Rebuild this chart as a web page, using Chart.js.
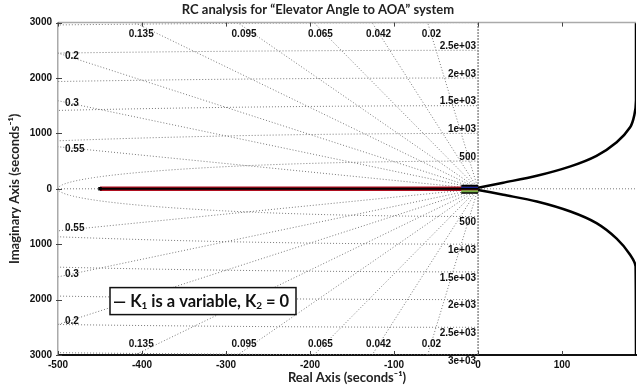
<!DOCTYPE html>
<html>
<head>
<meta charset="utf-8">
<script src="https://cdn.jsdelivr.net/npm/chart.js@4.4.0/dist/chart.umd.min.js"></script>
<style>
body{margin:0;background:#fff}
#wrap{width:642px;height:388px}
</style>
</head>
<body>
<div id="wrap"><canvas id="rc_chart" width="642" height="388"></canvas></div>
<script>
let xTicks=[-500,-400,-300,-200,-100,0,100]
let yTicks=[-3000,-2000,-1000,0,1000,2000,3000]
let dampingRatios=[0.02,0.042,0.065,0.095,0.135,0.2,0.3,0.55]
let naturalFreqs=[500,1000,1500,2000,2500,3000]
let freqLabels=['500','1e+03','1.5e+03','2e+03','2.5e+03','3e+03']

// K1 locus: real-axis segment plus the two branches heading right
let realBranchX=[-450,0]
let upperBranchX=[0,30,70,110,141,165,181,186,188,188]
let upperBranchY=[20,110,235,405,595,840,1110,1330,1600,3000]
let lowerBranchX=[0,30,70,110,141,165,181,187.5,188]
let lowerBranchY=[-20,-108,-229,-410,-620,-900,-1190,-1400,-3000]
// short branches bunched up next to the origin
let originX=[-20,0]
let originY=[55,25,-5,-45,-70]
let originColors=['#000','#2233c8','#d42020','#7ab648','#000']

const X_MIN=-500, X_MAX=188, Y_MIN=-3000, Y_MAX=3000
const GRID='#7a7a7a'

function gridLine(points, color, dash){
    return {data:points, showLine:true, pointRadius:0, borderColor:color||GRID,
        borderWidth:1, borderDash:dash||[1,2], order:10}
}

let datasets=[]

// locus first so it sits on top of the grid
datasets.push({data:realBranchX.map(x=>({x:x,y:0})), showLine:true, borderColor:'#000', borderWidth:2,
    pointRadius:[2.5,0], pointStyle:'rect', pointBackgroundColor:'#000', pointBorderWidth:0, order:0})
datasets.push({data:realBranchX.map(x=>({x:x,y:0})), showLine:true, borderColor:'#b01020', borderWidth:4.5,
    pointRadius:0, order:1})
datasets.push({data:upperBranchX.map((x,i)=>({x:x,y:upperBranchY[i]})), showLine:true, borderColor:'#000',
    borderWidth:2.5, pointRadius:0, tension:0.3, order:0})
datasets.push({data:lowerBranchX.map((x,i)=>({x:x,y:lowerBranchY[i]})), showLine:true, borderColor:'#000',
    borderWidth:2.5, pointRadius:0, tension:0.3, order:0})
originY.forEach((y,i)=>{
    datasets.push({data:originX.map(x=>({x:x,y:y})), showLine:true, borderColor:originColors[i],
        borderWidth:2, pointRadius:0, order:0})
})

// sgrid: constant damping rays
dampingRatios.forEach(z=>{
    let r=5000, wd=Math.sqrt(1-z*z)
    datasets.push(gridLine([{x:-r*z,y:r*wd},{x:0,y:0},{x:-r*z,y:-r*wd}]))
})
// sgrid: constant natural frequency arcs
naturalFreqs.forEach(wn=>{
    let pts=[]
    for(let a=-90;a<=90;a+=0.5){
        let t=a*Math.PI/180
        pts.push({x:-wn*Math.cos(t), y:wn*Math.sin(t)})
    }
    datasets.push(gridLine(pts))
})
datasets.push(gridLine([{x:X_MIN,y:0},{x:X_MAX,y:0}]))
datasets.push(gridLine([{x:0,y:Y_MIN},{x:0,y:Y_MAX}],'#555',[2,1]))

const tickFont={family:'Liberation Sans', weight:'bold', size:10}
const titleFont={family:'Lato', weight:'bold', size:13}

const overlay={
    id:'overlay',
    afterDraw(chart){
        const ctx=chart.ctx, xs=chart.scales.x, ys=chart.scales.y, a=chart.chartArea
        ctx.save()
        // top frame and inner ticks
        ctx.strokeStyle='#aaa'; ctx.lineWidth=1.5
        ctx.beginPath(); ctx.moveTo(a.left,a.top); ctx.lineTo(a.right,a.top); ctx.stroke()
        ctx.strokeStyle='#444'; ctx.lineWidth=1
        xTicks.forEach(v=>{
            let px=Math.round(xs.getPixelForValue(v))+0.5
            ctx.beginPath(); ctx.moveTo(px,a.top); ctx.lineTo(px,a.top+4); ctx.stroke()
            ctx.beginPath(); ctx.moveTo(px,a.bottom); ctx.lineTo(px,a.bottom-4); ctx.stroke()
        })
        yTicks.forEach(v=>{
            let py=Math.round(ys.getPixelForValue(v))+0.5
            ctx.beginPath(); ctx.moveTo(a.left-2,py); ctx.lineTo(a.left+4,py); ctx.stroke()
        })

        ctx.fillStyle='#111'
        ctx.font='bold 10px "Liberation Sans"'
        // damping labels: along the top/bottom edge or the left edge
        dampingRatios.forEach(z=>{
            let s=Math.sqrt(1-z*z)/z
            let xTop=-Y_MAX/s
            let txt=String(z)
            ctx.textAlign='left'; ctx.textBaseline='middle'
            if(xTop>X_MIN){
                let px=xs.getPixelForValue(xTop)-6
                ctx.fillText(txt,px,a.top+12)
                ctx.fillText(txt,px,a.bottom-11)
            }else{
                let yl=-X_MIN*s
                ctx.fillText(txt,a.left+7,ys.getPixelForValue(yl)+3)
                ctx.fillText(txt,a.left+7,ys.getPixelForValue(-yl)-3)
            }
        })
        // natural frequency labels next to the imaginary axis
        let px0=xs.getPixelForValue(0)-2
        ctx.textAlign='right'
        naturalFreqs.forEach((wn,i)=>{
            if(wn<Y_MAX){
                ctx.textBaseline='bottom'
                ctx.fillText(freqLabels[i],px0,ys.getPixelForValue(wn)+1)
            }
            ctx.textBaseline='top'
            ctx.fillText(freqLabels[i],px0,ys.getPixelForValue(-wn)+1)
        })

        // legend box, text sized to fill it
        let bx=a.left+52, by=a.top+265, bw=186, bh=27
        ctx.fillStyle='#fff'; ctx.fillRect(bx,by,bw,bh)
        ctx.strokeStyle='#111'; ctx.lineWidth=1.5; ctx.strokeRect(bx,by,bw,bh)
        let parts=[['— K',0],['1',1],[' is a variable, K',0],['2',1],[' = 0',0]]
        let size=19
        const widthAt=sz=>parts.reduce((w,p)=>{
            ctx.font='bold '+(p[1]?Math.round(sz*0.62):sz)+'px Lato'
            return w+ctx.measureText(p[0]).width
        },0)
        while(size>10 && widthAt(size)>bw-7) size-=0.5
        let cx=bx+3, cy=by+bh/2+1
        ctx.fillStyle='#111'; ctx.textAlign='left'; ctx.textBaseline='middle'
        parts.forEach(p=>{
            ctx.font='bold '+(p[1]?Math.round(size*0.62):size)+'px Lato'
            ctx.fillText(p[0],cx,p[1]?cy+4:cy)
            cx+=ctx.measureText(p[0]).width
        })
        ctx.restore()
    }
}

const chart=new Chart(document.getElementById('rc_chart'),{
    type:'scatter',
    data:{datasets:datasets},
    options:{
        responsive:false,
        animation:false,
        layout:{padding:{left:0,right:6,top:0,bottom:2}},
        plugins:{
            legend:{display:false},
            tooltip:{enabled:false},
            title:{display:true, text:'RC analysis for “Elevator Angle to AOA” system',
                color:'#222', font:titleFont, padding:{top:2,bottom:5}}
        },
        scales:{
            x:{min:X_MIN, max:X_MAX,
                afterBuildTicks:s=>{s.ticks=xTicks.map(v=>({value:v}))},
                afterFit:s=>{s.height=31},
                grid:{display:true, drawOnChartArea:false, drawTicks:false},
                border:{color:'#111', width:2},
                ticks:{font:tickFont, color:'#111', padding:4, maxRotation:0},
                title:{display:true, text:'Real Axis (seconds⁻¹)', color:'#222',
                    font:titleFont, padding:{top:0,bottom:0}}
            },
            y:{min:Y_MIN, max:Y_MAX,
                afterBuildTicks:s=>{s.ticks=yTicks.map(v=>({value:v}))},
                afterFit:s=>{s.width=58},
                grid:{display:true, drawOnChartArea:false, drawTicks:false},
                border:{color:'#aaa', width:1.5},
                ticks:{font:tickFont, color:'#111', padding:6, callback:v=>Math.abs(v)},
                title:{display:true, text:'Imaginary Axis (seconds⁻¹)', color:'#222',
                    font:titleFont, padding:{top:7,bottom:0}}
            }
        }
    },
    plugins:[overlay]
})
</script>
</body>
</html>
